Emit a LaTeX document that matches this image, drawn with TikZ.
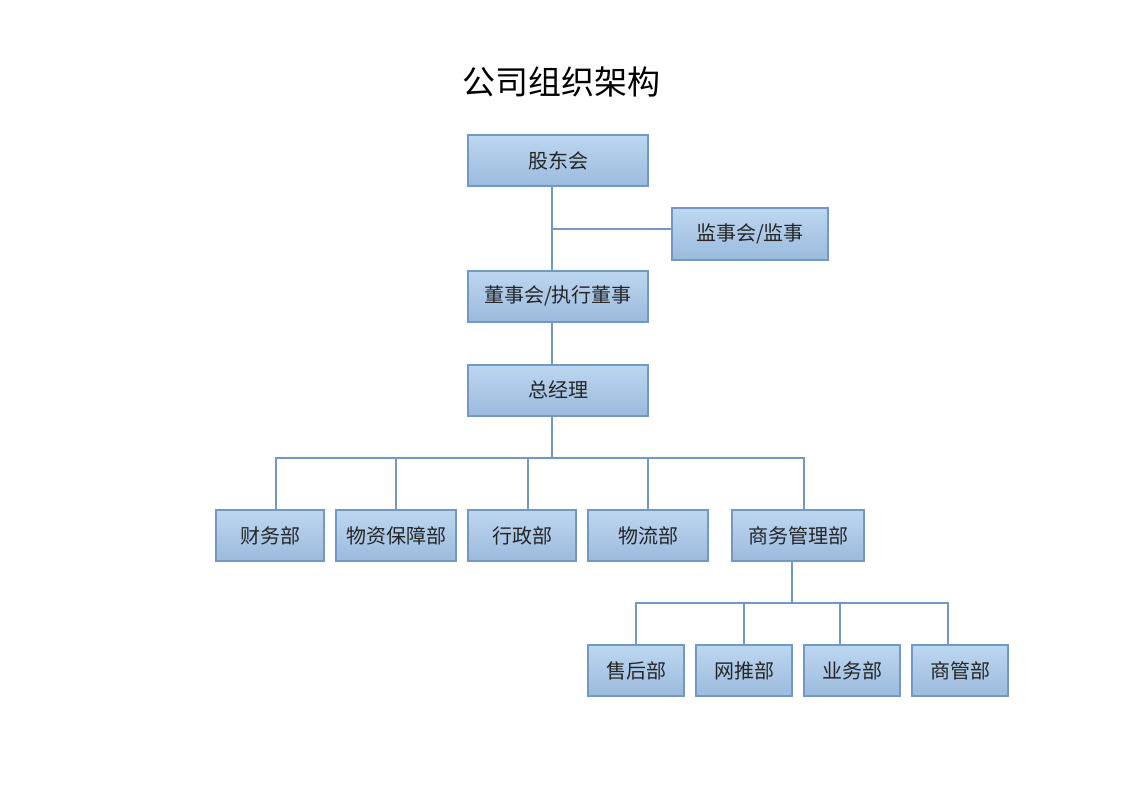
\documentclass[tikz,border=0pt]{standalone}
\usepackage{fontspec}
\newfontfamily\cjk{Noto Sans CJK SC}
\definecolor{boxtop}{HTML}{BDD7F0}
\definecolor{boxbot}{HTML}{9BBADD}
\definecolor{edge}{HTML}{7398C2}
\begin{document}
\begin{tikzpicture}[x=1pt,y=-1pt,
  box/.style={draw=edge,line width=2pt,top color=boxtop,bottom color=boxbot,
    minimum height=51pt,inner sep=0pt,font=\cjk\fontsize{20}{23}\selectfont,text=black!85},
  conn/.style={draw=edge,line width=2pt}]
\useasboundingbox (0,0) rectangle (1123,794);
\node[font=\cjk\fontsize{33}{38}\selectfont] (title) at (561,82) {公司组织架构};
\node[box,minimum width=180pt] (gd) at (558,161) {股东会};
\node[box,minimum width=156pt] (js) at (750,234) {监事会/监事};
\node[box,minimum width=180pt] (ds) at (558,296) {董事会/执行董事};
\node[box,minimum width=180pt] (zjl) at (558,390) {总经理};
\node[box,minimum width=108pt] (cw) at (270,535.5) {财务部};
\node[box,minimum width=120pt] (wz) at (396,535.5) {物资保障部};
\node[box,minimum width=108pt] (xz) at (522,535.5) {行政部};
\node[box,minimum width=120pt] (wl) at (648,535.5) {物流部};
\node[box,minimum width=132pt] (sw) at (798,535.5) {商务管理部};
\node[box,minimum width=96pt] (sh) at (636,670.5) {售后部};
\node[box,minimum width=96pt] (wt) at (744,670.5) {网推部};
\node[box,minimum width=96pt] (yw) at (852,670.5) {业务部};
\node[box,minimum width=96pt] (sg) at (960,670.5) {商管部};
\coordinate (j1) at (552,229);
\coordinate (j2) at (552,458);
\coordinate (j3) at (792,603);
\draw[conn] (gd.south -| j1) -- (ds.north -| j1);
\draw[conn] (j1) -- (js.west |- j1);
\draw[conn] (ds.south -| j1) -- (zjl.north -| j1);
\draw[conn] (zjl.south -| j2) -- (j2);
\draw[conn] (cw.north -| 276,0) |- (j2) -| (sw.north -| 804,0);
\draw[conn] (wz.north) -- (wz.north |- j2);
\draw[conn] (xz.north -| 528,0) -- (528,458);
\draw[conn] (wl.north) -- (wl.north |- j2);
\draw[conn] (sw.south -| j3) -- (j3);
\draw[conn] (sh.north) |- (j3) -| (sg.north -| 948,0);
\draw[conn] (wt.north) -- (wt.north |- j3);
\draw[conn] (yw.north -| 840,0) -- (840,603);
\end{tikzpicture}
\end{document}
